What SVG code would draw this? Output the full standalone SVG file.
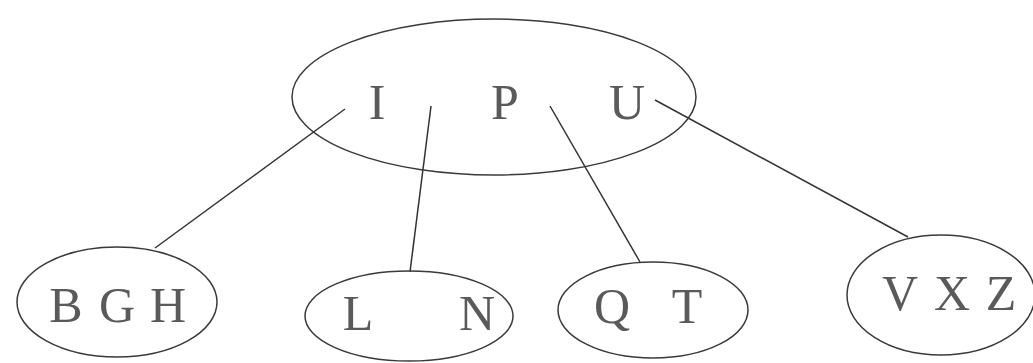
<svg xmlns="http://www.w3.org/2000/svg" width="1033" height="363" viewBox="0 0 1033 363">
<style>
.n{fill:none;stroke:#3a3a3a;stroke-width:1.5}
.c{stroke:#333;stroke-width:1.5;fill:none}
.t{font-family:"Liberation Serif","Times New Roman",serif;font-size:50px;fill:#5a5a5a;text-anchor:middle}
</style>
<rect width="1033" height="363" fill="#fff"/>
<g id="connectors">
<line class="c" x1="345" y1="109" x2="155" y2="248"/>
<line class="c" x1="431" y1="106" x2="410" y2="272"/>
<line class="c" x1="550" y1="106" x2="640" y2="262"/>
<line class="c" x1="655" y1="100" x2="908" y2="237"/>
</g>
<g id="node-IPU">
<ellipse class="n" cx="494" cy="97" rx="202" ry="78"/>
<text class="t" y="119"><tspan x="377">I</tspan><tspan x="505">P</tspan><tspan x="627">U</tspan></text>
</g>
<g id="node-BGH">
<ellipse class="n" cx="117" cy="302" rx="100" ry="55"/>
<text class="t" y="322"><tspan x="66">B</tspan><tspan x="117">G</tspan><tspan x="168">H</tspan></text>
</g>
<g id="node-LN">
<ellipse class="n" cx="409" cy="316" rx="104" ry="45"/>
<text class="t" y="330"><tspan x="358">L</tspan><tspan x="477">N</tspan></text>
</g>
<g id="node-QT">
<ellipse class="n" cx="653" cy="310" rx="95" ry="48"/>
<text class="t" y="323"><tspan x="612">Q</tspan><tspan x="687">T</tspan></text>
</g>
<g id="node-VXZ">
<ellipse class="n" cx="941" cy="295" rx="94" ry="60"/>
<text class="t" y="310"><tspan x="900">V</tspan><tspan x="952">X</tspan><tspan x="1001">Z</tspan></text>
</g>
</svg>
